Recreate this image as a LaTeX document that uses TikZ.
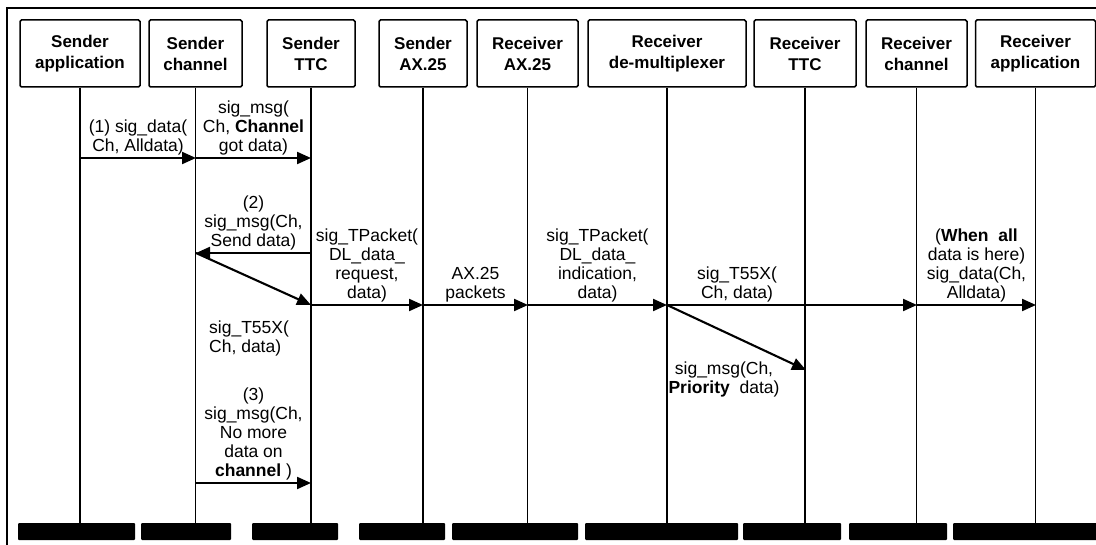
\documentclass[tikz,border=0pt]{standalone}
\usepackage{fontspec}
\setmainfont{Liberation Sans}
\usetikzlibrary{arrows.meta, positioning, calc}

\tikzset{
  head/.style={draw, line width=1.5pt, rounded corners=1.5pt, align=center,
    font=\fontsize{17}{21}\selectfont\bfseries, minimum height=67pt, inner sep=0pt},
  endbar/.style={fill=black, rounded corners=1pt, minimum height=17pt, inner sep=0pt},
  life/.style={line width=1.7pt},
  msg/.style={line width=2.1pt, -{Triangle[length=14pt, width=12pt]}},
  lbl/.style={font=\fontsize{17.5}{19}\selectfont, align=center, inner sep=2pt}
}

\begin{document}
\begin{tikzpicture}[x=1pt, y=-1pt]
  \useasboundingbox (0,0) rectangle (1096,545);
  % outer frame (top and left only)
  \draw[line width=2.2pt] (7,545) -- (7,8) -- (1100,8);
  % headers
  \node[head, minimum width=120pt] (sapp) at (80,53.5)    {Sender\\application};
  \node[head, minimum width=93pt]  (sch)  at (195.5,53.5) {Sender\\channel};
  \node[head, minimum width=88pt]  (sttc) at (311,53.5)   {Sender\\TTC};
  \node[head, minimum width=88pt]  (sax)  at (423,53.5)   {Sender\\AX.25};
  \node[head, minimum width=101pt] (rax)  at (527.5,53.5) {Receiver\\AX.25};
  \node[head, minimum width=158pt] (rdmx) at (667,53.5)   {Receiver\\de-multiplexer};
  \node[head, minimum width=102pt] (rttc) at (805,53.5)   {Receiver\\TTC};
  \node[head, minimum width=101pt] (rch)  at (916.5,53.5) {Receiver\\channel};
  \node[head, minimum width=120pt] (rapp) at (1035.5,53.5) {Receiver\\application};
  % end bars
  \foreach \n/\x/\w in {k1/76.5/117, k2/186/90, k3/295/86, k4/402/86, k5/515/126,
                        k6/661.5/153, k7/792/98, k8/898/98, k9/1026/146} {
    \node[endbar, minimum width=\w pt] (\n) at (\x,531.5) {};
  }
  % lifelines
  \foreach \n/\k in {sapp/k1, sch/k2, sttc/k3, sax/k4, rax/k5, rdmx/k6, rttc/k7, rch/k8, rapp/k9} {
    \draw[life] (\n.south) -- (\n.south |- \k.north);
  }
  % message end points
  \coordinate (a1) at (80,158);  \coordinate (b1) at (196,158); \coordinate (c1) at (311,158);
  \coordinate (b2) at (196,253); \coordinate (c2) at (311,253);
  \coordinate (c3) at (311,305); \coordinate (d3) at (423,305); \coordinate (e3) at (528,305);
  \coordinate (f3) at (667,305); \coordinate (h3) at (917,305); \coordinate (i3) at (1036,305);
  \coordinate (g4) at (806,370);
  \coordinate (b5) at (196,483); \coordinate (c5) at (311,483);
  % messages
  \draw[msg] (a1) -- (b1) node[midway, above, lbl] (t1) {(1) sig\_data(\\Ch, Alldata)};
  \draw[msg] (b1) -- (c1) node[midway, above, lbl] (t2) {sig\_msg(\\Ch, \textbf{Channel}\\got data)};
  \draw[msg] (c2) -- (b2) node[midway, above, lbl] (t3) {(2)\\sig\_msg(Ch,\\Send data)};
  \draw[msg] (b2) -- (c3);
  \node[lbl, align=left, anchor=west] (t4) at (207,338) {sig\_T55X(\\Ch, data)};
  \draw[msg] (c3) -- (d3) node[midway, above, lbl] (t5) {sig\_TPacket(\\DL\_data\_\\request,\\data)};
  \draw[msg] (d3) -- (e3) node[midway, above, lbl] (t6) {AX.25\\packets};
  \draw[msg] (e3) -- (f3) node[midway, above, lbl] (t7) {sig\_TPacket(\\DL\_data\_\\indication,\\data)};
  \draw[msg] (f3) -- (h3) node[pos=0.28, above, lbl] (t8) {sig\_T55X(\\Ch, data)};
  \draw[msg] (h3) -- (i3) node[midway, above, lbl] (t9) {(\textbf{When\ \ all}\\data is here)\\sig\_data(Ch,\\Alldata)};
  \draw[msg] (f3) -- (g4);
  \node[lbl] (t10) at (724,379) {sig\_msg(Ch,\\\textbf{Priority}\ \ data)};
  \draw[msg] (b5) -- (c5) node[midway, above, lbl] (t11) {(3)\\sig\_msg(Ch,\\No more\\data on\\\textbf{channel} )};
\end{tikzpicture}
\end{document}
